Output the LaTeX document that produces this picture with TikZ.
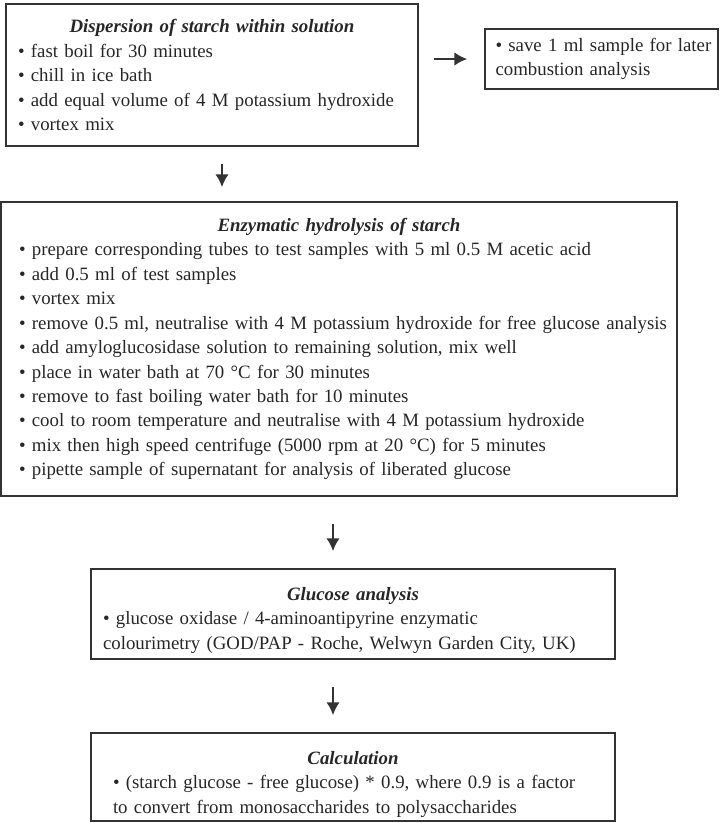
\documentclass[tikz,border=0pt]{standalone}
\usepackage{fontspec}
\setmainfont{Liberation Serif}
\usetikzlibrary{positioning, arrows.meta}
\setlength{\parindent}{0pt}

\newcommand{\boxtitle}[2][0pt]{\centerline{\rule{0pt}{#1}\bfseries\itshape #2}}

\begin{document}
\begin{tikzpicture}[
        stepbox/.style={draw=black!80, line width=1.2pt, text=black!85, align=left, inner ysep=0pt,
            font=\fontsize{13.4}{17.4}\selectfont},
        flowarrow/.style={-{Latex[length=3.2mm, width=3.4mm]}, line width=1.8pt, draw=black!80}
    ]
        \useasboundingbox (0,0) rectangle (18.025,-20.575);

        % draw the boxes with their texts
        \node[stepbox, text width=9.7cm, inner xsep=0.3cm, minimum height=3.55cm] (disp) at (5.3,-1.875) {
            \boxtitle{Dispersion of starch within solution}
            • fast boil for 30 minutes\\
            • chill in ice bath\\
            • add equal volume of 4 M potassium hydroxide\\
            • vortex mix};
        \node[stepbox, text width=5.3cm, inner xsep=0.26cm, minimum height=1.5cm] (save) at (15.0375,-1.475) {
            \mbox{• save 1 ml sample for later}\\
            combustion analysis};
        \node[stepbox, text width=16cm, inner xsep=0.45cm, minimum height=7.35cm] (enz) at (8.475,-8.725) {
            \boxtitle{Enzymatic hydrolysis of starch}
            • prepare corresponding tubes to test samples with 5 ml 0.5 M acetic acid\\
            • add 0.5 ml of test samples\\
            • vortex mix\\
            \mbox{• remove 0.5 ml, neutralise with 4 M potassium hydroxide for free glucose analysis}\\
            • add amyloglucosidase solution to remaining solution, mix well\\
            • place in water bath at 70 °C for 30 minutes\\
            • remove to fast boiling water bath for 10 minutes\\
            • cool to room temperature and neutralise with  4 M potassium hydroxide\\
            • mix then high speed centrifuge (5000 rpm at 20 °C) for 5 minutes\\
            • pipette sample of supernatant for analysis of liberated glucose};
        \node[stepbox, text width=12.5cm, inner xsep=0.3cm, minimum height=2.25cm] (glu) at (8.825,-15.35) {
            \boxtitle[0.65cm]{Glucose analysis}
            • glucose oxidase / 4-aminoantipyrine enzymatic\\
            colourimetry (GOD/PAP - Roche, Welwyn Garden City, UK)};
        \node[stepbox, text width=12cm, inner xsep=0.55cm, minimum height=2.2cm] (calc) at (8.825,-19.425) {
            \boxtitle[0.7cm]{Calculation}
            • (starch glucose - free glucose) * 0.9, where 0.9 is a factor\\
            to convert from monosaccharides to polysaccharides};

        % draw the arrows
        \draw[flowarrow, shorten <=0.375cm, shorten >=0.425cm] (disp.east |- save.west) -- (save.west);
        \draw[flowarrow, shorten <=0.425cm, shorten >=0.35cm] ([xshift=0.25cm]disp.south) -- ([xshift=0.25cm]disp.south |- enz.north);
        \draw[flowarrow, shorten <=0.675cm, shorten >=0.425cm] ([xshift=-0.15cm]enz.south) -- ([xshift=-0.15cm]enz.south |- glu.north);
        \draw[flowarrow, shorten <=0.675cm, shorten >=0.425cm] ([xshift=-0.5cm]glu.south) -- ([xshift=-0.5cm]glu.south |- calc.north);
    \end{tikzpicture}
\end{document}
